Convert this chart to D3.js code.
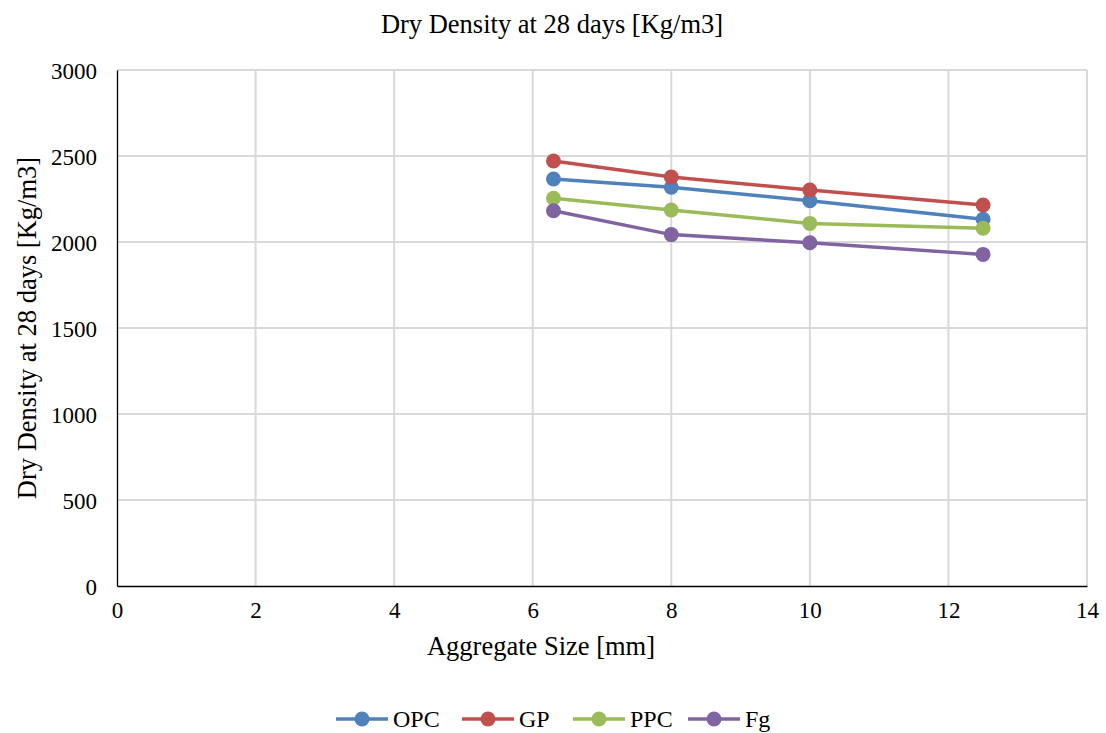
<!DOCTYPE html>
<html>
<head>
<meta charset="utf-8">
<script src="https://cdn.jsdelivr.net/npm/d3@7/dist/d3.min.js"></script>
<style>
  body { margin: 0; background: #fff; }
  text { font-family: "Liberation Serif", "Times New Roman", serif; fill: #000; }
</style>
</head>
<body>
<div id="chart"></div>
<script>
// data
var sizes = [6.3, 8, 10, 12.5];
var seriesNames = ["OPC", "GP", "PPC", "Fg"];
var opc = [2366, 2318, 2240, 2132];
var gp = [2471, 2378, 2302, 2215];
var ppc = [2254, 2186, 2108, 2080];
var fg = [2182, 2043, 1996, 1928];
var xTicks = [0, 2, 4, 6, 8, 10, 12, 14];
var yTicks = [0, 500, 1000, 1500, 2000, 2500, 3000];
var colours = ["#4F81BD", "#C0504D", "#9BBB59", "#8064A2"];

var series = [opc, gp, ppc, fg].map(function (vals, i) {
  return {
    name: seriesNames[i],
    colour: colours[i],
    points: vals.map(function (v, j) { return {x: sizes[j], y: v}; })
  };
});

var width = 1106, height = 733;
var margin = {top: 70, right: 19, bottom: 147, left: 117};
var widthG = width - margin.left - margin.right;
var heightG = height - margin.top - margin.bottom;

var svg = d3.select("#chart").append("svg")
  .attr("width", width)
  .attr("height", height);

var g = svg.append("g")
  .attr("transform", "translate(" + margin.left + "," + margin.top + ")");

var x = d3.scaleLinear().domain([0, 14]).range([0, widthG]);
var y = d3.scaleLinear().domain([0, 3000]).range([heightG, 0]);

// gridlines
g.append("g").selectAll("line")
  .data(yTicks.filter(function (d) { return d > 0; }))
  .enter().append("line")
  .attr("x1", 0).attr("x2", widthG)
  .attr("y1", function (d) { return y(d); })
  .attr("y2", function (d) { return y(d); })
  .attr("stroke", "#d9d9d9").attr("stroke-width", 2);

g.append("g").selectAll("line")
  .data(xTicks.filter(function (d) { return d > 0; }))
  .enter().append("line")
  .attr("y1", 0).attr("y2", heightG)
  .attr("x1", function (d) { return x(d); })
  .attr("x2", function (d) { return x(d); })
  .attr("stroke", "#d9d9d9").attr("stroke-width", 2);

// axes
var xAxis = d3.axisBottom(x).tickValues(xTicks).tickSize(0).tickPadding(16)
  .tickFormat(d3.format("d"));
var yAxis = d3.axisLeft(y).tickValues(yTicks).tickSize(0).tickPadding(20)
  .tickFormat(d3.format("d"));

var gx = g.append("g")
  .attr("transform", "translate(0," + heightG + ")")
  .call(xAxis);
gx.select(".domain").attr("stroke", "#000").attr("stroke-width", 1.3);
gx.selectAll("text").style("font-size", "23px").style("font-family", "Liberation Serif");

var gy = g.append("g").call(yAxis);
gy.select(".domain").attr("stroke", "#000").attr("stroke-width", 1.3);
gy.selectAll("text").style("font-size", "23px").style("font-family", "Liberation Serif")
  .attr("dy", "0.35em");

// lines and markers
var line = d3.line()
  .x(function (d) { return x(d.x); })
  .y(function (d) { return y(d.y); });

var sg = g.selectAll(".series")
  .data(series)
  .enter().append("g")
  .attr("class", "series");

sg.append("path")
  .attr("d", function (d) { return line(d.points); })
  .attr("fill", "none")
  .attr("stroke", function (d) { return d.colour; })
  .attr("stroke-width", 3.5);

sg.selectAll("circle")
  .data(function (d) { return d.points.map(function (p) { return {p: p, c: d.colour}; }); })
  .enter().append("circle")
  .attr("cx", function (d) { return x(d.p.x); })
  .attr("cy", function (d) { return y(d.p.y); })
  .attr("r", 7.5)
  .attr("fill", function (d) { return d.c; });

// titles
svg.append("text")
  .attr("x", 552).attr("y", 33)
  .attr("text-anchor", "middle")
  .style("font-size", "26.5px")
  .text("Dry Density at 28 days [Kg/m3]");

svg.append("text")
  .attr("x", 541).attr("y", 655)
  .attr("text-anchor", "middle")
  .style("font-size", "26.5px")
  .text("Aggregate Size [mm]");

svg.append("text")
  .attr("transform", "translate(36," + (margin.top + heightG / 2 - 0) + ") rotate(-90)")
  .attr("text-anchor", "middle")
  .style("font-size", "26.5px")
  .text("Dry Density at 28 days [Kg/m3]");

// legend
var legendX = [336, 462, 573, 688];
var lg = svg.selectAll(".legend")
  .data(series)
  .enter().append("g")
  .attr("class", "legend")
  .attr("transform", function (d, i) { return "translate(" + legendX[i] + ",719)"; });

lg.append("line")
  .attr("x1", 0).attr("x2", 52)
  .attr("stroke", function (d) { return d.colour; })
  .attr("stroke-width", 3.5);
lg.append("circle")
  .attr("cx", 26).attr("r", 7.5)
  .attr("fill", function (d) { return d.colour; });
lg.append("text")
  .attr("x", 57).attr("y", 8)
  .style("font-size", "24px")
  .text(function (d) { return d.name; });
</script>
</body>
</html>
